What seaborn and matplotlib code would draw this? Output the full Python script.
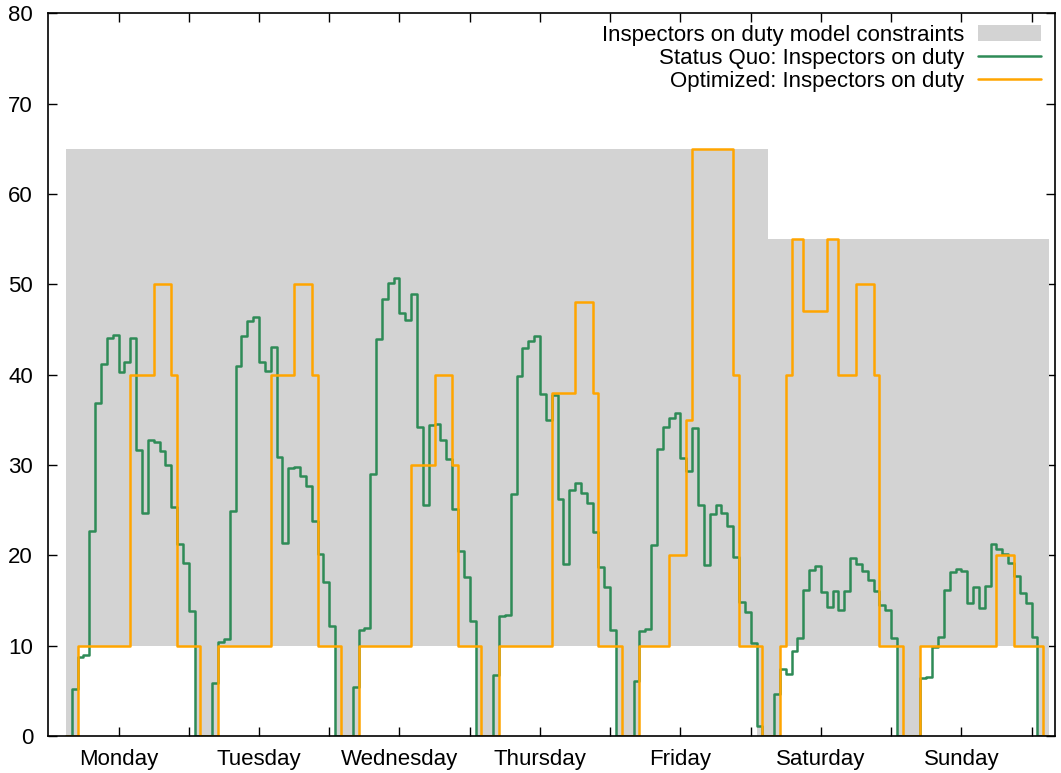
import numpy as np
import pandas as pd
import seaborn as sns
import matplotlib
matplotlib.use("Agg")
import matplotlib.pyplot as plt

# hour of the week (0 = Monday 00:00), one value per hour slot
hours = np.arange(3, 171)
days = ["Monday", "Tuesday", "Wednesday", "Thursday", "Friday", "Saturday", "Sunday"]

status_quo = [
    0, 5.2, 8.8, 9.0, 22.7, 36.9, 41.2, 44.1, 44.4, 40.3, 41.4, 44.1, 31.7, 24.7,
    32.8, 32.5, 31.6, 30.0, 25.3, 21.3, 19.1, 13.8,
    0, 0, 0, 5.9, 10.4, 10.7, 24.9, 41.0, 44.3, 45.9, 46.4, 41.4, 40.4, 43.1, 30.9,
    21.4, 29.7, 29.8, 28.8, 27.7, 23.8, 20.1, 17.0, 12.2,
    0, 0, 0, 5.4, 11.7, 11.9, 29.0, 43.9, 48.4, 50.1, 50.7, 46.8, 46.1, 48.9, 34.2,
    25.6, 34.4, 34.5, 32.8, 30.7, 25.1, 20.5, 17.6, 12.7,
    0, 0, 0, 6.7, 13.3, 13.4, 26.8, 39.8, 43.0, 43.7, 44.3, 37.9, 35.0, 37.7, 26.2,
    19.0, 27.2, 28.0, 26.9, 25.8, 22.6, 18.7, 16.5, 11.7,
    0, 0, 0, 6.1, 11.6, 11.8, 21.1, 31.8, 34.2, 35.2, 35.8, 30.8, 29.3, 34.1, 25.6,
    18.9, 24.6, 25.6, 24.7, 23.3, 19.8, 14.8, 13.7, 10.3, 1.1,
    0, 0, 4.7, 7.4, 6.9, 9.4, 10.9, 16.2, 18.4, 18.8, 15.9, 14.3, 16.1, 13.9, 16.0,
    19.7, 19.0, 18.3, 17.3, 16.0, 14.5, 13.9, 10.9,
    0, 0, 0, 0, 6.4, 6.5, 9.8, 11.0, 16.2, 18.1, 18.5, 18.3, 14.7, 16.5, 14.2, 16.6,
    21.3, 20.7, 20.1, 19.1, 17.7, 15.8, 14.7, 11.0,
    0, 0,
]

optimized = [
    0, 0, 10, 10, 10, 10, 10, 10, 10, 10, 10, 40, 40, 40, 40, 50, 50, 50, 40,
    10, 10, 10, 10,
    0, 0, 0, 10, 10, 10, 10, 10, 10, 10, 10, 10, 40, 40, 40, 40, 50, 50, 50, 40,
    10, 10, 10, 10,
    0, 0, 0, 10, 10, 10, 10, 10, 10, 10, 10, 10, 30, 30, 30, 30, 40, 40, 40, 30,
    10, 10, 10, 10,
    0, 0, 0, 10, 10, 10, 10, 10, 10, 10, 10, 10, 38, 38, 38, 38, 48, 48, 48, 38,
    10, 10, 10, 10,
    0, 0, 0, 10, 10, 10, 10, 10, 20, 20, 20, 35, 65, 65, 65, 65, 65, 65, 65, 40,
    10, 10, 10, 10,
    0, 0, 0, 10, 40, 55, 55, 47, 47, 47, 47, 55, 55, 40, 40, 40, 50, 50, 50, 40,
    10, 10, 10, 10,
    0, 0, 0, 10, 10, 10, 10, 10, 10, 10, 10, 10, 10, 10, 10, 10, 20, 20, 20,
    10, 10, 10, 10, 10,
    0,
]

lower_limit = [
    0, 0, 10, 10, 10, 10, 10, 10, 10, 10, 10, 10, 10, 10, 10, 10, 10, 10, 10, 10, 10, 10,
    0, 0, 0, 0, 10, 10, 10, 10, 10, 10, 10, 10, 10, 10, 10, 10, 10, 10, 10, 10, 10, 10, 10, 10,
    0, 0, 0, 0, 10, 10, 10, 10, 10, 10, 10, 10, 10, 10, 10, 10, 10, 10, 10, 10, 10, 10, 10, 10,
    0, 0, 0, 0, 10, 10, 10, 10, 10, 10, 10, 10, 10, 10, 10, 10, 10, 10, 10, 10, 10, 10, 10, 10,
    0, 0, 0, 0, 10, 10, 10, 10, 10, 10, 10, 10, 10, 10, 10, 10, 10, 10, 10, 10, 10, 10, 10, 10,
    0, 0, 0, 0, 10, 10, 10, 10, 10, 10, 10, 10, 10, 10, 10, 10, 10, 10, 10, 10, 10, 10, 10, 10,
    0, 0, 0, 0, 10, 10, 10, 10, 10, 10, 10, 10, 10, 10, 10, 10, 10, 10, 10, 10, 10, 10, 10, 10,
    0, 0,
]

upper_limit = [65] * 120 + [55] * 48

# repeat last value so the final step is drawn to its end
df = pd.DataFrame({
    "hour": np.append(hours, hours[-1] + 1),
    "status_quo": status_quo + status_quo[-1:],
    "optimized": optimized + optimized[-1:],
    "lower": lower_limit + lower_limit[-1:],
    "upper": upper_limit + upper_limit[-1:],
})

sns.set_theme(style="ticks")
plt.rcParams["font.family"] = ["Liberation Sans", "DejaVu Sans"]
plt.rcParams["text.color"] = "black"

fig = plt.figure(figsize=(10.61, 7.73), dpi=100)
ax = fig.add_axes([48.3 / 1061, 37 / 773, (1055 - 48.3) / 1061, (736 - 13.3) / 773])

ax.fill_between(df["hour"], df["lower"], df["upper"], step="post",
                color="#d3d3d3", lw=0, label="Inspectors on duty model constraints")
sns.lineplot(data=df, x="hour", y="status_quo", drawstyle="steps-post",
             color="#2e8b57", lw=1.8, label="Status Quo: Inspectors on duty", ax=ax)
sns.lineplot(data=df, x="hour", y="optimized", drawstyle="steps-post",
             color="#ffa500", lw=1.8, label="Optimized: Inspectors on duty", ax=ax)

ax.set_xlim(0, 172)
ax.set_ylim(0, 80)
ax.set_xlabel("")
ax.set_ylabel("")
ax.set_xticks([12 + 24 * i for i in range(len(days))])
ax.set_xticklabels(days)
ax.set_xticks([24 * (i + 1) for i in range(len(days))], minor=True)
ax.set_yticks(range(0, 81, 10))
ax.tick_params(which="both", direction="in", top=True, right=True,
               length=6.5, width=1, color="black", labelsize=16, labelcolor="black")
ax.tick_params(axis="y", pad=11)
ax.tick_params(axis="x", pad=9)
for pos in ["top", "bottom", "right", "left"]:
    ax.spines[pos].set_linewidth(1.2)
    ax.spines[pos].set_color("black")

leg = ax.legend(loc="upper right", frameon=False, markerfirst=False, fontsize=16,
                handlelength=2.85, handletextpad=0.62, labelspacing=0.1,
                borderpad=0, borderaxespad=0,
                bbox_to_anchor=(1041 / 1061, 1 - 24.5 / 773), bbox_transform=fig.transFigure)
for t in leg.get_texts():
    t.set_color("black")

fig.savefig("out.png", dpi=100)
